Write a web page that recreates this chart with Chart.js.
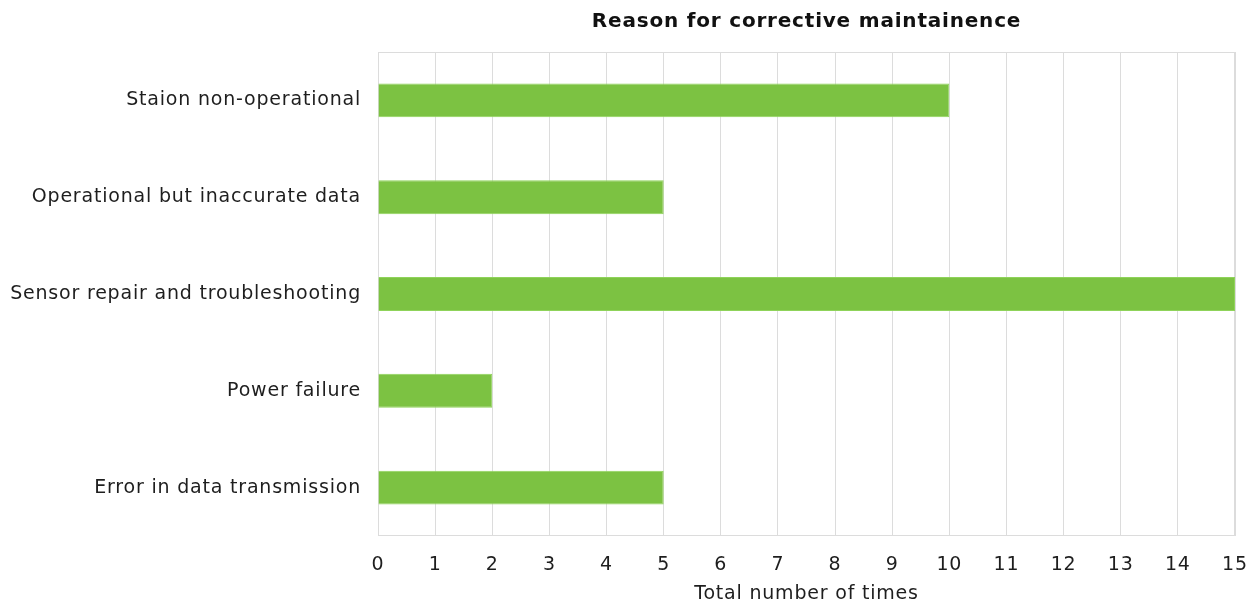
<!DOCTYPE html>
<html>
<head>
<meta charset="utf-8">
<script src="https://cdn.jsdelivr.net/npm/chart.js@4"></script>
<style>
html,body{margin:0;padding:0;background:#fff;}
#wrap{width:1258px;height:607px;}
</style>
</head>
<body>
<div id="wrap"><canvas id="c" width="1258" height="607"></canvas></div>
<script>
const categories = ["Staion non-operational","Operational but inaccurate data","Sensor repair and troubleshooting","Power failure","Error in data transmission"];
const counts = [10, 5, 15, 2, 5];
const xTicks = [0,1,2,3,4,5,6,7,8,9,10,11,12,13,14,15];
const FONT = "'DejaVu Sans', Verdana, sans-serif";
const SPACING = '0.8px';

const spacingPlugin = {
  id: 'spacing',
  beforeInit(chart) { chart.ctx.letterSpacing = SPACING; },
  beforeUpdate(chart) { chart.ctx.letterSpacing = SPACING; },
  beforeDraw(chart) { chart.ctx.letterSpacing = SPACING; }
};

const borderPlugin = {
  id: 'areaBorder',
  beforeDatasetsDraw(chart) {
    const {ctx, chartArea: a} = chart;
    ctx.save();
    ctx.strokeStyle = '#dcdcdc';
    ctx.lineWidth = 1;
    ctx.strokeRect(a.left + 0.5, a.top + 0.5, a.right - a.left - 1, a.bottom - a.top - 1);
    ctx.restore();
  }
};

new Chart(document.getElementById('c'), {
  type: 'bar',
  data: {
    labels: categories,
    datasets: [{
      data: counts,
      backgroundColor: '#7cc242',
      borderColor: '#8fd35a',
      borderWidth: 1,
      barPercentage: 0.35,
      categoryPercentage: 1.0
    }]
  },
  options: {
    indexAxis: 'y',
    responsive: false,
    animation: false,
    layout: { padding: { left: 0, right: 23, top: 8, bottom: 0 } },
    plugins: {
      legend: { display: false },
      tooltip: { enabled: false },
      title: {
        display: true,
        text: 'Reason for corrective maintainence',
        fullSize: false,
        color: '#111',
        font: { family: FONT, size: 20, weight: 'bold' },
        padding: { top: 2, bottom: 18 }
      }
    },
    scales: {
      x: {
        min: 0, max: 15,
        afterBuildTicks(axis) { axis.ticks = xTicks.map(v => ({ value: v })); },
        afterFit(axis) { axis.height = 71; axis.paddingRight = 0; axis.paddingLeft = 0; },
        grid: { color: '#dcdcdc', drawTicks: false },
        border: { display: false },
        ticks: { color: '#1e1e1e', font: { family: FONT, size: 19 }, padding: 18 },
        title: {
          display: true, text: 'Total number of times', color: '#1e1e1e',
          font: { family: FONT, size: 19 }, padding: { top: 2, bottom: 2 }
        }
      },
      y: {
        afterFit(axis) { axis.width = 378; },
        grid: { display: false, drawTicks: false },
        border: { display: false },
        ticks: { color: '#1e1e1e', font: { family: FONT, size: 19 }, padding: 17 }
      }
    }
  },
  plugins: [spacingPlugin, borderPlugin]
});
</script>
</body>
</html>
